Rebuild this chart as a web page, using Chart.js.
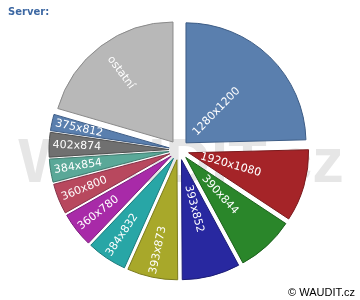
<!DOCTYPE html>
<html>
<head>
<meta charset="utf-8">
<script src="https://cdn.jsdelivr.net/npm/chart.js@4/dist/chart.umd.min.js"></script>
<style>
  html, body { margin: 0; padding: 0; background: #fff; }
  #wrap { width: 360px; height: 300px; position: relative; }
</style>
</head>
<body>
<div id="wrap"><canvas id="chart"></canvas></div>
<script>
// screen resolutions, share of visits in %
const resolutions = ['1280x1200', '1920x1080', '390x844', '393x852', '393x873', '384x832',
  '360x780', '360x800', '384x854', '402x874', '375x812', 'ostatní'];
const shares = [24.6, 9.7, 7.8, 7.8, 6.8, 5.4, 4.7, 4.1, 3.1, 3.3, 2.2, 20.5];

const sliceColors = ['#5a7fae', '#a52428', '#2a862a', '#2828a0', '#a8a82a', '#28a6a6',
  '#a82aa8', '#b8485e', '#5aa898', '#707070', '#5a7fae', '#b8b8b8'];
const edgeColors = ['#3d5c85', '#7a1a1d', '#1d601d', '#1b1b75', '#7a7a1d', '#1b7a7a',
  '#7a1d7a', '#86344a', '#3f7a6e', '#505050', '#3d5c85', '#8a8a8a'];

const SHIFT = 10;          // how far each slice is pulled out
const LABEL_R_RIGHT = 75;  // where the label text ends, right half
const LABEL_R_LEFT = 68;   // same for the left half (text reads inward)

// background watermark + texts
const watermark = {
  id: 'watermark',
  beforeDraw(chart) {
    const ctx = chart.ctx;
    ctx.save();
    ctx.font = 'bold 63px "Liberation Sans", Arial, sans-serif';
    ctx.fillStyle = '#e6e6e6';
    ctx.textAlign = 'center';
    ctx.textBaseline = 'alphabetic';
    ctx.fillText('WAUDIT.cz', 181, 182);
    ctx.restore();
  },
  afterDraw(chart) {
    const ctx = chart.ctx;
    ctx.save();
    ctx.font = 'bold 10px "DejaVu Sans", sans-serif';
    ctx.fillStyle = '#3d68a3';
    ctx.textAlign = 'left';
    ctx.textBaseline = 'alphabetic';
    ctx.fillText('Server:', 8, 15);
    ctx.font = '11px "Liberation Sans", Arial, sans-serif';
    ctx.fillStyle = '#000';
    ctx.textAlign = 'right';
    ctx.fillText('© WAUDIT.cz', 355, 296);
    ctx.restore();
  }
};

// draw every slice pulled out along its middle angle, then the labels
const explode = {
  id: 'explode',
  beforeDatasetDraw(chart, args) {
    const ctx = chart.ctx;
    const arcs = args.meta.data;
    arcs.forEach(arc => {
      const mid = (arc.startAngle + arc.endAngle) / 2;
      ctx.save();
      ctx.translate(Math.cos(mid) * SHIFT, Math.sin(mid) * SHIFT);
      arc.draw(ctx);
      ctx.restore();
    });
    ctx.save();
    ctx.font = '11px "DejaVu Sans", sans-serif';
    ctx.fillStyle = '#ffffff';
    ctx.textBaseline = 'middle';
    ctx.textAlign = 'right';
    arcs.forEach((arc, i) => {
      const mid = (arc.startAngle + arc.endAngle) / 2;
      const right = Math.cos(mid) >= 0;
      const r = SHIFT + (right ? LABEL_R_RIGHT : LABEL_R_LEFT);
      ctx.save();
      ctx.translate(arc.x + Math.cos(mid) * r, arc.y + Math.sin(mid) * r);
      ctx.rotate(right ? mid : mid + Math.PI);
      ctx.fillText(resolutions[i], 0, 0);
      ctx.restore();
    });
    ctx.restore();
    return false;
  }
};

new Chart(document.getElementById('chart'), {
  type: 'pie',
  data: {
    labels: resolutions,
    datasets: [{
      data: shares,
      backgroundColor: sliceColors,
      borderColor: edgeColors,
      borderWidth: 1
    }]
  },
  options: {
    responsive: true,
    maintainAspectRatio: false,
    animation: false,
    radius: 120,
    layout: { padding: { left: 0, right: 2, top: 0, bottom: 0 } },
    plugins: {
      legend: { display: false },
      tooltip: { enabled: false }
    }
  },
  plugins: [watermark, explode]
});
</script>
</body>
</html>
